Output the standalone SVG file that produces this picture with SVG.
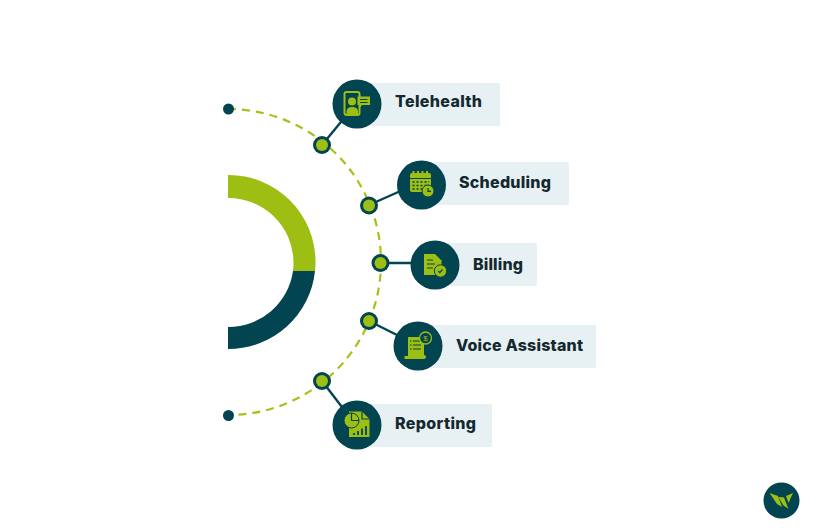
<svg xmlns="http://www.w3.org/2000/svg" width="818" height="528" viewBox="0 0 818 528">
<style>
.bg{fill:#fff}
.pill{fill:#e7f0f3}
.disc{fill:#02444f}
.g{fill:#9dbe12}
.gs{fill:none;stroke:#9dbe12;stroke-width:2}
.d{fill:#02444f}
.ln{fill:none;stroke:#02444f;stroke-width:1.200}
.link{stroke:#02444f;stroke-width:2.400;fill:none}
.lab{font-family:Inter,"Liberation Sans",sans-serif;font-weight:800;font-size:16px;fill:#14282f}
</style>
<rect class="bg" width="818" height="528"/>
<g id="ring">
<path fill="#9dbe12" d="M228 175A87 87 0 0 1 315.500 262Q315.500 267 315 271L293 271Q293.500 267 293.500 262A65 65 0 0 0 228 198Z"/>
<path fill="#02444f" d="M315 271A87 87 0 0 1 228 349L228 327A65 65 0 0 0 293 271Z"/>
</g>
<g id="connectors">
<path d="M228 109A153 153 0 0 1 228 415" fill="none" stroke="#a5c21a" stroke-width="2.200" stroke-dasharray="8 6"/>
<path class="link" d="M322 145L345 117"/>
<path class="link" d="M369 205L405 189"/>
<path class="link" d="M380 263L415 263"/>
<path class="link" d="M369 321L405 339"/>
<path class="link" d="M322 381L345 411"/>
<circle class="d" cx="228.500" cy="109" r="5.500"/>
<circle class="d" cx="228.500" cy="415.500" r="5.500"/>
<g id="dots">
<circle class="d" cx="322" cy="145" r="9"/><circle class="g" cx="322" cy="145" r="6"/>
<circle class="d" cx="369" cy="205.500" r="9"/><circle class="g" cx="369" cy="205.500" r="6"/>
<circle class="d" cx="380.500" cy="263" r="9"/><circle class="g" cx="380.500" cy="263" r="6"/>
<circle class="d" cx="369" cy="321" r="9"/><circle class="g" cx="369" cy="321" r="6"/>
<circle class="d" cx="322" cy="381" r="9"/><circle class="g" cx="322" cy="381" r="6"/>
</g>
</g>
<g id="telehealth">
<rect class="pill" x="360" y="83" width="140" height="43" rx="2"/>
<circle class="disc" cx="357" cy="104" r="24.500"/>
<rect class="gs" x="344.500" y="92" width="15" height="23" rx="2"/>
<circle class="g" cx="352" cy="101.500" r="4"/>
<path class="g" d="M346.500 114V111Q347 107 352 107Q357.500 107 358 111V114Z"/>
<path class="g" d="M357.500 96.500H370V105H362L359.500 108V105H357.500Z"/>
<path stroke="#02444f" stroke-width="1" d="M360 99.500H367.500M360 102.500H367.500"/>
<text class="lab" x="395" y="107" textLength="87" lengthAdjust="spacing">Telehealth</text>
</g>
<g id="scheduling">
<rect class="pill" x="424" y="162" width="145" height="43" rx="2"/>
<circle class="disc" cx="421.500" cy="185" r="24.500"/>
<rect class="g" x="410" y="173" width="21" height="19" rx="2"/>
<path class="g" d="M412.500 171h2v3.500h-2zM417 171h2v3.500h-2zM421.500 171h2v3.500h-2zM426 171h2v3.500h-2z"/>
<path stroke="#02444f" stroke-width="1" d="M410 178.500H431"/>
<path stroke="#02444f" stroke-width="1.500" stroke-dasharray="2 2" d="M412.500 182H429M412.500 185.500H429M412.500 189H424"/>
<circle class="g" cx="428" cy="191" r="6" stroke="#02444f" stroke-width="1"/>
<path class="ln" d="M428 188V191.300H431"/>
<text class="lab" x="459" y="188" textLength="92" lengthAdjust="spacing">Scheduling</text>
</g>
<g id="billing">
<rect class="pill" x="438" y="243" width="99" height="43" rx="2"/>
<circle class="disc" cx="435" cy="265" r="24.500"/>
<path class="g" d="M424 254H435L441.500 260.500V275H424Z"/>
<path class="ln" d="M427 260H433M427 264H435M427 268H433"/>
<circle class="g" cx="440.500" cy="271" r="6.200" stroke="#02444f" stroke-width="1"/>
<path class="ln" d="M438.300 271L439.800 272.700L442.500 269.500"/>
<text class="lab" x="473" y="270" textLength="50" lengthAdjust="spacing">Billing</text>
</g>
<g id="voice-assistant">
<rect class="pill" x="421" y="325" width="175" height="43" rx="2"/>
<circle class="disc" cx="418" cy="346" r="24.500"/>
<path class="g" d="M408 337H424V355Q426 355 426 357Q426 359 423 359H404.500V356H408Z"/>
<path class="ln" d="M413 341H421M413 345H421M413 349H421M410 341H411.500M410 345H411.500M410 349H411.500"/>
<circle cx="425.500" cy="338" r="6" fill="#02444f" stroke="#9dbe12" stroke-width="1.300"/>
<text x="425.500" y="341" font-family="'Liberation Sans',sans-serif" font-size="8" text-anchor="middle" fill="#9dbe12">$</text>
<text class="lab" x="456" y="351" textLength="127" lengthAdjust="spacing">Voice Assistant</text>
</g>
<g id="reporting">
<rect class="pill" x="360" y="404" width="132" height="43" rx="2"/>
<circle class="disc" cx="357" cy="425" r="24.500"/>
<path class="g" d="M349 411.500H362L369.500 419V437H349Z"/>
<path class="ln" d="M362 411.500V419H369.500"/>
<circle class="g" cx="351.500" cy="420.500" r="7.500" stroke="#02444f" stroke-width="1"/>
<path class="ln" d="M351.500 413V420.500H359"/>
<path stroke="#02444f" stroke-width="1.800" d="M354 435V433M358 435V431M362 435V428.500M366 435V426"/>
<text class="lab" x="395" y="429" textLength="81" lengthAdjust="spacing">Reporting</text>
</g>
<g id="logo">
<circle class="disc" cx="781.500" cy="500.500" r="18"/>
<path class="g" d="M769.500 493L778 496L782 507L777 504Z"/>
<path class="g" d="M778.500 497L784 497.500L788.500 509L783 505Z"/>
<path class="g" d="M786 496L793 493L788.500 503Z"/>
</g>
</svg>
